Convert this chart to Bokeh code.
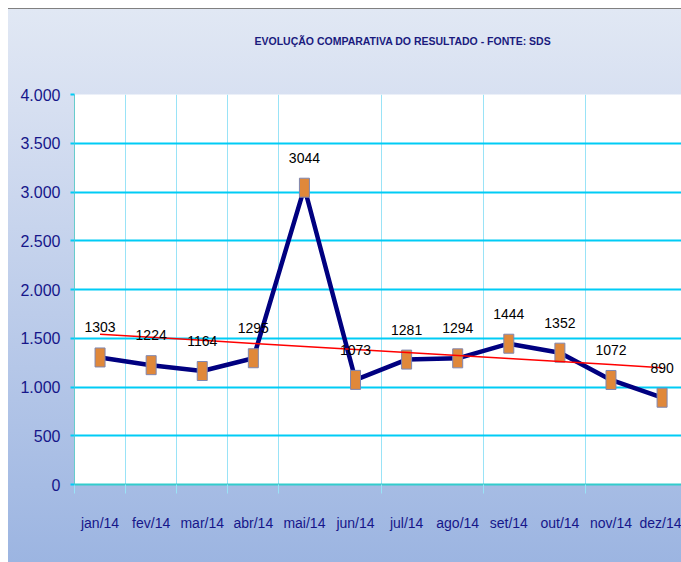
import numpy as np
from bokeh.plotting import figure
from bokeh.models import Range1d, FixedTicker, ColumnDataSource
from bokeh.core.properties import value
from bokeh.embed import file_html
from bokeh.resources import INLINE

# ---- data ----
months = ["jan/14", "fev/14", "mar/14", "abr/14", "mai/14", "jun/14",
          "jul/14", "ago/14", "set/14", "out/14", "nov/14", "dez/14"]
resultado = [1303, 1224, 1164, 1295, 3044, 1073, 1281, 1294, 1444, 1352, 1072, 890]
y_ticks = [0, 500, 1000, 1500, 2000, 2500, 3000, 3500, 4000]
title_text = "EVOLUÇÃO COMPARATIVA DO RESULTADO - FONTE: SDS"

FONT = "Liberation Sans"
NAVY = "#16168A"

idx = np.arange(len(months))
pos = idx + 0.5
coef = np.polyfit(idx, resultado, 1)
trend = np.polyval(coef, idx)

src = ColumnDataSource(dict(x=pos, y=resultado,
                            label=[str(v) for v in resultado], trend=trend))

p = figure(width=681, height=562, output_backend="svg", toolbar_location=None,
           x_range=Range1d(0, 11.88), y_range=Range1d(0, 4000),
           min_border_left=74, min_border_right=0, min_border_top=94,
           min_border_bottom=78)
p.border_fill_color = None
p.background_fill_color = "white"
p.outline_line_color = None
p.styles = {"background": (
    "linear-gradient(#808080, #808080) 8px 8px / 100% 1px no-repeat, "
    "linear-gradient(#E1E8F4, #D6DFF1 18%, #9BB4E1) 8px 9px / 100% 100% no-repeat, "
    "white")}

# title
p.title.text = title_text
p.title.align = "left"
p.title.offset = 180
p.title.vertical_align = "top"
p.title.standoff = 20
p.title.padding = dict(left=0, right=0, top=0, bottom=36)
p.title.text_font = FONT
p.title.text_font_style = "bold"
p.title.text_font_size = "10.5px"
p.title.text_color = "#1A1A7E"

# x axis: labels at category centres, small ticks at (some) boundaries
boundaries = [0, 1, 2, 3, 4, 6, 8, 10]
xa = p.xaxis[0]
xa.ticker = FixedTicker(ticks=list(pos), minor_ticks=boundaries)
xa.major_label_overrides = {float(x): m for x, m in zip(pos, months)}
xa.major_tick_line_color = None
xa.major_tick_out = 0
xa.major_tick_in = 0
xa.minor_tick_out = 9
xa.minor_tick_in = 0
xa.minor_tick_line_color = "#99E3F7"
xa.minor_tick_line_width = 1
xa.axis_line_color = "#33CCCC"
xa.axis_line_width = 2
xa.major_label_standoff = 21
xa.major_label_text_font = FONT
xa.major_label_text_font_size = "14px"
xa.major_label_text_color = NAVY

p.xgrid.ticker = FixedTicker(ticks=boundaries)
p.xgrid.grid_line_color = "#99E3F7"
p.xgrid.grid_line_width = 1

ya = p.yaxis[0]
ya.ticker = FixedTicker(ticks=y_ticks)
ya.major_label_overrides = {t: f"{t:,}".replace(",", ".") for t in y_ticks}
ya.axis_line_color = "#66CCCC"
ya.axis_line_width = 1
ya.major_tick_out = 4
ya.major_tick_in = 0
ya.major_tick_line_color = "#00CCF5"
ya.major_tick_line_width = 2
ya.minor_tick_line_color = None
ya.major_label_standoff = 10
ya.major_label_text_font = FONT
ya.major_label_text_font_size = "16px"
ya.major_label_text_color = NAVY

p.ygrid.grid_line_color = "#00CCF5"
p.ygrid.grid_line_width = 2

# series
p.line("x", "y", source=src, line_color="#000080", line_width=4.5, line_join="round")
p.rect("x", "y", source=src, width=10, height=19, width_units="screen",
       height_units="screen", fill_color="#E0883A", line_color="#7F86B0", line_width=1)
p.line("x", "trend", source=src, line_color="#FF0000", line_width=1.5)
p.text("x", "y", text="label", source=src, y_offset=-30, text_align="center",
       text_baseline="middle", text_font=value(FONT), text_font_size="14px",
       text_color="black")

open("out.html", "w").write(file_html(p, INLINE))
